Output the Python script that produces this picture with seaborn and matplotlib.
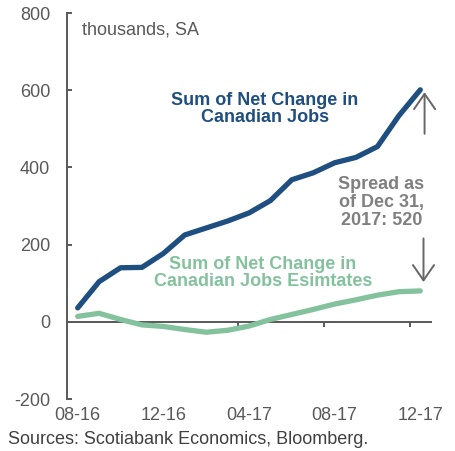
import matplotlib
matplotlib.use("Agg")
import matplotlib.pyplot as plt
import seaborn as sns
import pandas as pd

months = ["08-16", "09-16", "10-16", "11-16", "12-16", "01-17", "02-17", "03-17",
          "04-17", "05-17", "06-17", "07-17", "08-17", "09-17", "10-17", "11-17", "12-17"]
actual = [36, 104, 140, 141, 177, 225, 243, 261, 282, 314, 368, 386, 412, 426, 454, 534, 601]
estimates = [14, 22, 6, -8, -12, -20, -27, -22, -11, 6, 19, 32, 46, 57, 69, 78, 80]
shown_labels = ["08-16", "12-16", "04-17", "08-17", "12-17"]
y_ticks = [-200, 0, 200, 400, 600, 800]

sns.set_theme(style="white")
plt.rcParams["font.family"] = ["Liberation Sans", "DejaVu Sans"]
plt.rcParams["axes.unicode_minus"] = False

BLUE = "#1F4E80"
GREEN = "#84C29E"
AXIS = "#595959"
GRAY = "#808080"

idx = list(range(len(months)))
df = pd.DataFrame({
    "idx": idx * 2,
    "value": actual + estimates,
    "series": ["actual"] * len(months) + ["estimates"] * len(months),
})

fig = plt.figure(figsize=(4.56, 4.51), dpi=100)
ax = fig.add_axes([67 / 456, 1 - 399 / 451, (431 - 67) / 456, (399 - 13) / 451])

sns.lineplot(data=df, x="idx", y="value", hue="series",
             palette={"actual": BLUE, "estimates": GREEN},
             linewidth=3.8, legend=False, ax=ax)
for ln in ax.lines:
    ln.set_solid_capstyle("round")
    ln.set_solid_joinstyle("round")

ymin, ymax = -200, 800
ax.set_ylim(ymin, ymax)
ax.set_xlim(-0.5, len(months) - 0.5)
ax.set_xlabel("")
ax.set_ylabel("")

ax.set_yticks(y_ticks)
ax.set_yticklabels([str(v) for v in y_ticks])
ax.tick_params(axis="y", direction="in", length=3.6, width=1.4, color=AXIS,
               labelcolor=AXIS, labelsize=13, pad=12, left=True)

pos = [months.index(m) for m in shown_labels]
ax.set_xticks(pos)
ax.set_xticklabels(shown_labels)
ax.tick_params(axis="x", length=0, labelcolor=AXIS, labelsize=13, pad=5.5)

for s in ["top", "right", "bottom"]:
    ax.spines[s].set_visible(False)
ax.spines["left"].set_color(AXIS)
ax.spines["left"].set_linewidth(1.4)

zero_loc = (0 - ymin) / (ymax - ymin)
sec = ax.secondary_xaxis(zero_loc)
sec.set_xticks([p - 0.5 for p in pos[1:]])
sec.set_xticklabels([])
sec.tick_params(axis="x", direction="out", length=3.5, width=1.4, color=AXIS)
sec.spines["bottom"].set_color(AXIS)
sec.spines["bottom"].set_linewidth(1.4)
for s in ["top", "left", "right"]:
    sec.spines[s].set_visible(False)

ax.text(0.04, 0.955, "thousands, SA", transform=ax.transAxes, color=AXIS,
        fontsize=13, ha="left", va="center")

ax.text(8.75, 551, "Sum of Net Change in\nCanadian Jobs", color=BLUE,
        fontsize=13, fontweight="bold", ha="center", va="center", linespacing=1.05)
ax.text(8.65, 126, "Sum of Net Change in\nCanadian Jobs Esimtates", color=GREEN,
        fontsize=13, fontweight="bold", ha="center", va="center", linespacing=1.05)
ax.text(14.18, 309, "Spread as\nof Dec 31,\n2017: 520", color=GRAY,
        fontsize=13, fontweight="bold", ha="center", va="center", linespacing=1.05)

arrow_style = "->,head_length=0.55,head_width=0.38"
ax.annotate("", xy=(16.2, 595), xytext=(16.2, 487),
            arrowprops=dict(arrowstyle=arrow_style, color="#666666", lw=1.4,
                            mutation_scale=20, shrinkA=0, shrinkB=0))
ax.annotate("", xy=(16.15, 103), xytext=(16.15, 216),
            arrowprops=dict(arrowstyle=arrow_style, color="#666666", lw=1.4,
                            mutation_scale=20, shrinkA=0, shrinkB=0))

fig.text(8 / 456, 1 - 440 / 451, "Sources: Scotiabank Economics, Bloomberg.",
         color="#404040", fontsize=13, ha="left", va="center")

fig.savefig("out.png", dpi=100)
